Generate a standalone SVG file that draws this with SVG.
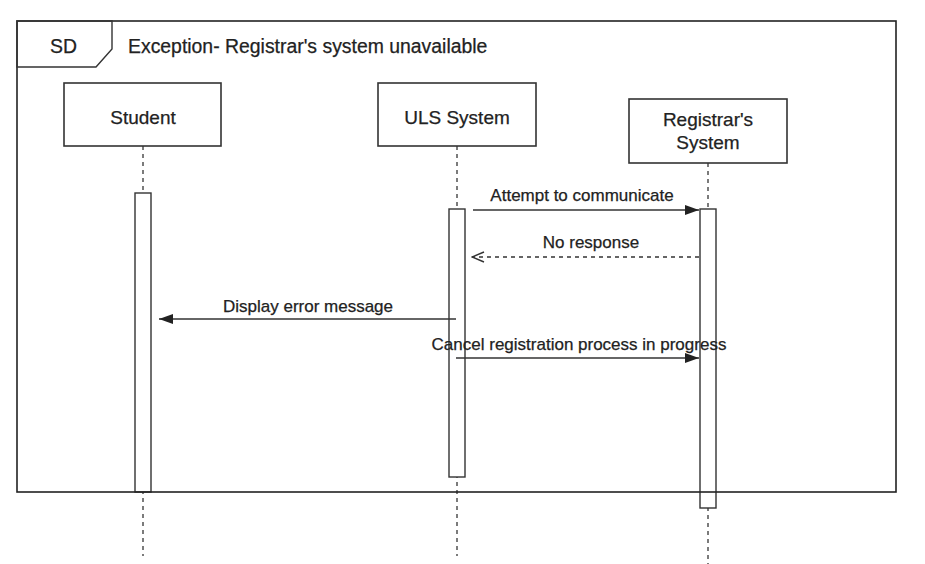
<svg xmlns="http://www.w3.org/2000/svg" width="925" height="564" viewBox="0 0 925 564">
  <defs>
    <style>
      text { font-family: "Liberation Sans", Arial, sans-serif; fill: #222; stroke: #222; stroke-width: 0.25; }
      .title { font-size: 19.4px; }
      .node { font-size: 19px; text-anchor: middle; }
      .msg { font-size: 17px; text-anchor: middle; }
      .box { fill: #fff; stroke: #333; stroke-width: 1.6; }
      .life { stroke: #444; stroke-width: 1.4; stroke-dasharray: 4 4; fill: none; }
      .act { fill: #fff; stroke: #333; stroke-width: 1.4; }
      .line { stroke: #333; stroke-width: 1.5; fill: none; }
      .dash { stroke: #333; stroke-width: 1.4; fill: none; stroke-dasharray: 4 4; }
    </style>
    <marker id="filled" viewBox="0 0 14 10" refX="14" refY="5" markerWidth="14" markerHeight="10" markerUnits="userSpaceOnUse" orient="auto">
      <path d="M0,0 L14,5 L0,10 Z" fill="#222"/>
    </marker>
    <marker id="open" viewBox="0 0 14 12" refX="13" refY="6" markerWidth="14" markerHeight="12" markerUnits="userSpaceOnUse" orient="auto">
      <path d="M1,1 L13,6 L1,11" fill="none" stroke="#333" stroke-width="1.4"/>
    </marker>
  </defs>
  <rect width="925" height="564" fill="#fff"/>

  <g id="lifelines">
    <line class="life" x1="143" y1="146" x2="143" y2="556"/>
    <line class="life" x1="457" y1="146" x2="457" y2="556"/>
    <line class="life" x1="708" y1="163" x2="708" y2="564"/>
  </g>

  <g id="student">
    <rect class="box" x="64" y="83" width="157" height="63"/>
    <text class="node" x="143" y="124">Student</text>
    <rect class="act" x="135" y="193" width="16" height="299"/>
  </g>

  <g id="uls">
    <rect class="box" x="378" y="83" width="158" height="63"/>
    <text class="node" x="457" y="124">ULS System</text>
    <rect class="act" x="449" y="209" width="16" height="268"/>
  </g>

  <g id="registrar">
    <rect class="box" x="629" y="99" width="158" height="64"/>
    <text class="node" x="708" y="126">Registrar's</text>
    <text class="node" x="708" y="149">System</text>
    <rect class="act" x="700" y="209" width="16" height="299"/>
  </g>

  <g id="frame">
    <rect x="17" y="21" width="879" height="471" fill="none" stroke="#222" stroke-width="1.6"/>
    <polygon points="17,21 112,21 112,49 96,67 17,67" fill="none" stroke="#333" stroke-width="1.4"/>
    <text class="title" x="50" y="53">SD</text>
    <text class="title" x="128" y="53">Exception- Registrar's system unavailable</text>
  </g>

  <g id="connectors">
    <line class="line" x1="473" y1="210" x2="699" y2="210" marker-end="url(#filled)"/>
    <text class="msg" x="582" y="201">Attempt to communicate</text>
    <line class="dash" x1="699" y1="257" x2="472" y2="257" marker-end="url(#open)"/>
    <text class="msg" x="591" y="248">No response</text>
    <line class="line" x1="456" y1="319" x2="159" y2="319" marker-end="url(#filled)"/>
    <text class="msg" x="308" y="312">Display error message</text>
    <line class="line" x1="456" y1="358" x2="699" y2="358" marker-end="url(#filled)"/>
    <text class="msg" x="579" y="350">Cancel registration process in progress</text>
  </g>
</svg>
